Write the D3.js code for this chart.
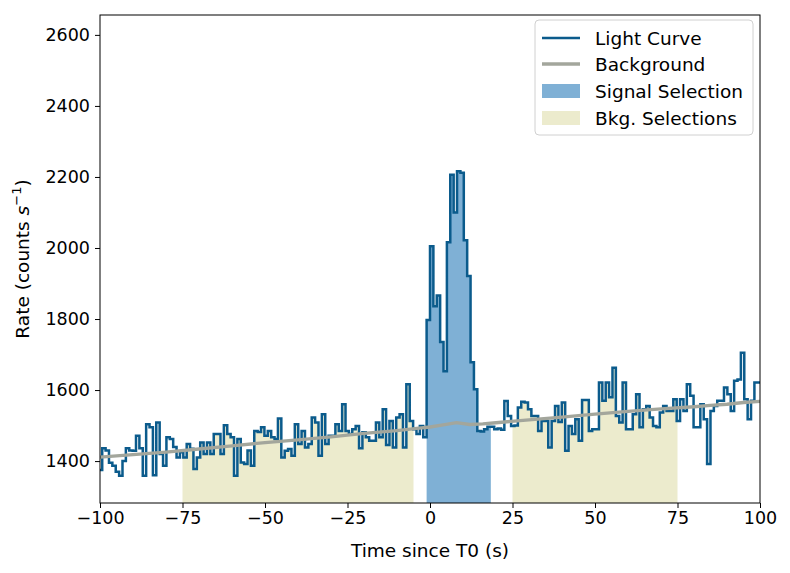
<!DOCTYPE html>
<html><head><meta charset="utf-8">
<script src="https://cdn.jsdelivr.net/npm/d3@7/dist/d3.min.js"></script>
<style>
body{margin:0;background:#fff;}
text{font-family:"DejaVu Sans",sans-serif;}
</style></head><body>
<svg id="c" width="790" height="573"></svg>
<script>
// ---- data ----
const binWidth = 1.024;
const firstBinIndex = -98;
const rates = [
1375,1436,1430,1395,1387,1370,1359,1400,1436,1430,1429,1471,1436,1359,1504,1495,1360,1509,1420,1387,
1467,1462,1440,1410,1425,1410,1448,1435,1378,1410,1452,1420,1452,1420,1476,1476,1420,1501,1476,1467,
1359,1462,1396,1392,1430,1387,1485,1482,1495,1471,1485,1467,1462,1520,1410,1429,1434,1415,1504,1448,
1485,1438,1448,1523,1509,1415,1532,1448,1471,1471,1504,1485,1560,1485,1476,1490,1499,1436,1481,1467,
1457,1457,1509,1467,1546,1445,1513,1438,1523,1532,1438,1616,1513,1490,1476,1499,1467,1797,2005,1836,
1866,1735,1653,2016,2206,2100,2216,2212,2022,1921,1678,1602,1485,1483,1490,1497,1497,1490,1492,1488,
1569,1527,1499,1500,1551,1567,1565,1546,1527,1527,1485,1513,1513,1438,1513,1555,1510,1565,1429,1499,
1476,1518,1457,1572,1572,1485,1490,1490,1621,1570,1621,1580,1663,1527,1509,1621,1490,1490,1532,1588,
1495,1546,1555,1523,1499,1495,1537,1555,1541,1541,1574,1513,1574,1541,1616,1584,1495,1495,1560,1518,
1392,1541,1555,1570,1570,1607,1588,1541,1626,1630,1705,1574,1518,1570,1621,1621
];
const bkgTimes = [-100,-90,-80,-70,-60,-50,-40,-30,-20,-10,-4,0,4,8,12,16,20,30,40,50,60,70,80,85,90,95,100];
const bkgRates = [1411,1418,1425,1434,1443,1452,1460,1468,1478,1486,1492,1496,1502,1508,1503,1505,1508,1516,1524,1532,1540,1547,1553,1557,1560,1565,1568];
const signalRange = [-1.024, 18.432];
const bkgRanges = [[-75, -5], [25, 75]];
const xTicks = [-100,-75,-50,-25,0,25,50,75,100];
const yTicks = [1400,1600,1800,2000,2200,2400,2600];
const legendLabels = ["Light Curve","Background","Signal Selection","Bkg. Selections"];

// ---- layout ----
const L=100,R=760,T=15,B=503;
const x = d3.scaleLinear().domain([-100,100]).range([L,R]);
const y = d3.scaleLinear().domain([1282,2656]).range([B,T]);
const svg = d3.select("#c");

const pts = rates.map((r,i)=>({t:(firstBinIndex+i)*binWidth, r}));
pts.push({t:(firstBinIndex+rates.length)*binWidth, r:rates[rates.length-1]});

const defs = svg.append("defs");
defs.append("clipPath").attr("id","plotclip").append("rect")
  .attr("x",L).attr("y",T).attr("width",R-L).attr("height",B-T);

const area = d3.area().curve(d3.curveStepAfter)
  .x(d=>x(d.t)).y0(B).y1(d=>y(d.r));

function fillRange(rng, color, id){
  defs.append("clipPath").attr("id",id).append("rect")
    .attr("x",x(rng[0])).attr("y",T).attr("width",x(rng[1])-x(rng[0])).attr("height",B-T);
  svg.append("path").datum(pts).attr("d",area)
    .attr("fill",color).attr("clip-path",`url(#${id})`);
}
bkgRanges.forEach((r,i)=>fillRange(r,"#ecebcd","bk"+i));
fillRange(signalRange,"#7fb0d5","sig");

const g = svg.append("g").attr("clip-path","url(#plotclip)");
const line = d3.line().curve(d3.curveStepAfter).x(d=>x(d.t)).y(d=>y(d.r));
g.append("path").datum(pts).attr("d",line)
  .attr("fill","none").attr("stroke","#0b5b8c").attr("stroke-width",2.5)
  .attr("stroke-linejoin","miter");
const bline = d3.line().x((d,i)=>x(bkgTimes[i])).y(d=>y(d));
g.append("path").datum(bkgRates).attr("d",bline)
  .attr("fill","none").attr("stroke","#a3a69c").attr("stroke-width",3.3);

// frame
svg.append("rect").attr("x",L).attr("y",T).attr("width",R-L).attr("height",B-T)
  .attr("fill","none").attr("stroke","#000").attr("stroke-width",1);

// axes
const fmt = v => (v<0?"\u2212":"")+Math.abs(v);
const xa = svg.append("g").attr("transform",`translate(0,${B})`)
  .call(d3.axisBottom(x).tickValues(xTicks).tickFormat(fmt).tickSize(5).tickPadding(4));
const ya = svg.append("g").attr("transform",`translate(${L},0)`)
  .call(d3.axisLeft(y).tickValues(yTicks).tickFormat(d3.format("d")).tickSize(5).tickPadding(5));
[xa,ya].forEach(a=>{
  a.select(".domain").remove();
  a.selectAll("text").attr("font-size",17.5).attr("fill","#000").attr("font-family","DejaVu Sans");
  a.selectAll("line").attr("stroke","#000");
});

svg.append("text").attr("x",(L+R)/2).attr("y",557).attr("text-anchor","middle")
  .attr("font-size",18.5).text("Time since T0 (s)");
const yl = svg.append("text").attr("transform",`translate(29,${(T+B)/2}) rotate(-90)`)
  .attr("text-anchor","middle").attr("font-size",18.5);
yl.append("tspan").text("Rate (counts ");
yl.append("tspan").attr("font-style","italic").text("s");
yl.append("tspan").attr("font-size",13).attr("dy",-8).text("\u22121");
yl.append("tspan").attr("dy",8).text(")");

// legend
const lg = svg.append("g");
lg.append("rect").attr("x",535).attr("y",20).attr("width",218).attr("height",115)
  .attr("rx",4).attr("fill","#fff").attr("fill-opacity",0.8).attr("stroke","#d0d0d0");
const rowsY = [38,64,91,118];
lg.append("line").attr("x1",542).attr("x2",580).attr("y1",rowsY[0]).attr("y2",rowsY[0])
  .attr("stroke","#0b5b8c").attr("stroke-width",2.5);
lg.append("line").attr("x1",542).attr("x2",580).attr("y1",rowsY[1]).attr("y2",rowsY[1])
  .attr("stroke","#a3a69c").attr("stroke-width",3.3);
lg.append("rect").attr("x",542).attr("y",rowsY[2]-7).attr("width",38).attr("height",14).attr("fill","#7fb0d5");
lg.append("rect").attr("x",542).attr("y",rowsY[3]-7).attr("width",38).attr("height",14).attr("fill","#ecebcd");
legendLabels.forEach((s,i)=>{
  lg.append("text").attr("x",595).attr("y",rowsY[i]+6.5).attr("font-size",18.5).text(s);
});
</script>
</body></html>
